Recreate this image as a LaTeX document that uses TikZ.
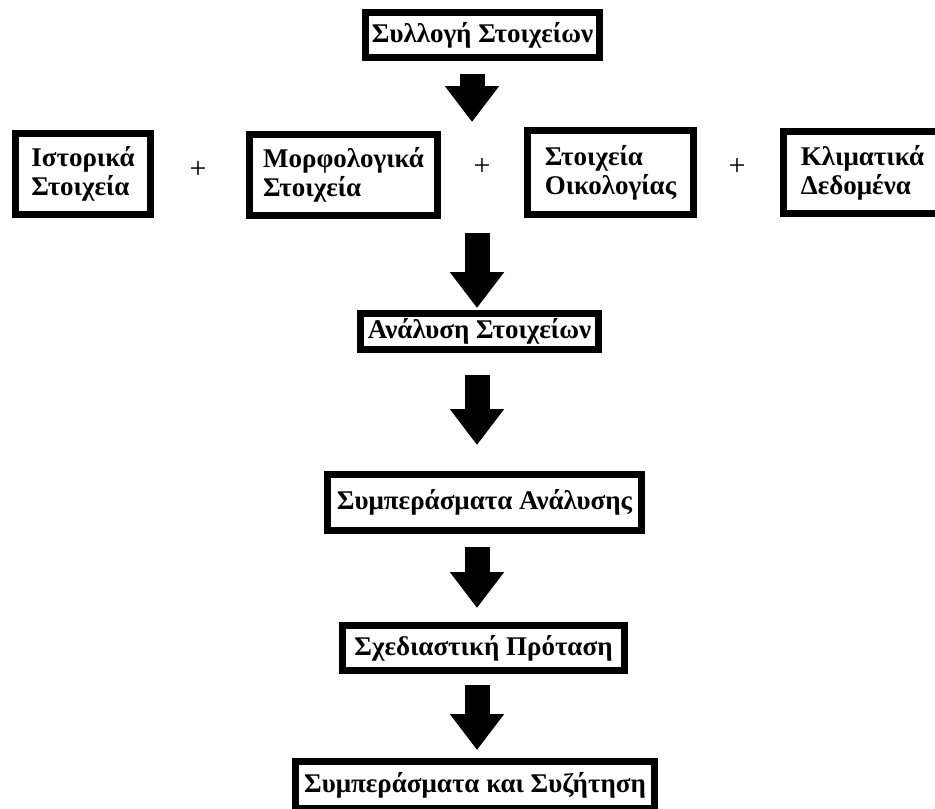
\documentclass[tikz,border=0pt]{standalone}
\usepackage{fontspec}
\setmainfont{Liberation Serif}
\usetikzlibrary{arrows.meta}
\tikzset{
  stagebox/.style={draw, line width=7pt, inner sep=0pt, align=left, font=\fontsize{27}{29}\selectfont\bfseries},
  plussign/.style={font=\fontsize{30}{30}\selectfont},
  blockarrow/.style={line width=25pt, -{Triangle[width=52pt,length=36pt]}}
}
\begin{document}
\begin{tikzpicture}[x=1pt, y=-1pt]
\useasboundingbox (0,0) rectangle (935,809);

\node[stagebox, minimum width=234pt, minimum height=45pt] (collect) at (482.5,35) {Συλλογή Στοιχείων};

\node[stagebox, minimum width=135pt, minimum height=81pt] (hist) at (83,174) {Ιστορικά\\Στοιχεία};
\node[plussign] (plus1) at (198,170) {+};
\node[stagebox, minimum width=188pt, minimum height=81pt] (morph) at (343.5,175) {Μορφολογικά\\Στοιχεία};
\node[plussign] (plus2) at (482,167) {+};
\node[stagebox, minimum width=166pt, minimum height=84pt] (ecol) at (610.5,172.5) {Στοιχεία\\Οικολογίας};
\node[plussign] (plus3) at (737,167) {+};
\node[stagebox, minimum width=158pt, minimum height=82pt] (clim) at (862.5,172.5) {Κλιματικά\\Δεδομένα};
\coordinate (rowtop) at (472,127);
\coordinate (rowbot) at (477,218);

\node[stagebox, minimum width=238pt, minimum height=36pt] (anal) at (479.5,331.5) {Ανάλυση Στοιχείων};
\node[stagebox, minimum width=314pt, minimum height=56pt] (concl) at (484.5,502.5) {Συμπεράσματα Ανάλυσης};
\node[stagebox, minimum width=282pt, minimum height=45pt] (design) at (483.5,648) {Σχεδιαστική Πρόταση};
\node[stagebox, minimum width=359pt, minimum height=47pt] (final) at (475,785) {Συμπεράσματα και Συζήτηση};

\draw[blockarrow, shorten <=13pt, shorten >=5pt] (collect.south -| rowtop) -- (rowtop);
\draw[blockarrow, shorten <=15pt, shorten >=2pt] (rowbot) -- (anal.north -| rowbot);
\draw[blockarrow, shorten <=22pt, shorten >=26pt] (anal.south -| rowbot) -- (concl.north -| rowbot);
\draw[blockarrow, shorten <=13pt, shorten >=14pt] (concl.south -| rowbot) -- (design.north -| rowbot);
\draw[blockarrow, shorten <=11pt, shorten >=8pt] (design.south -| rowbot) -- (final.north -| rowbot);

\end{tikzpicture}
\end{document}
